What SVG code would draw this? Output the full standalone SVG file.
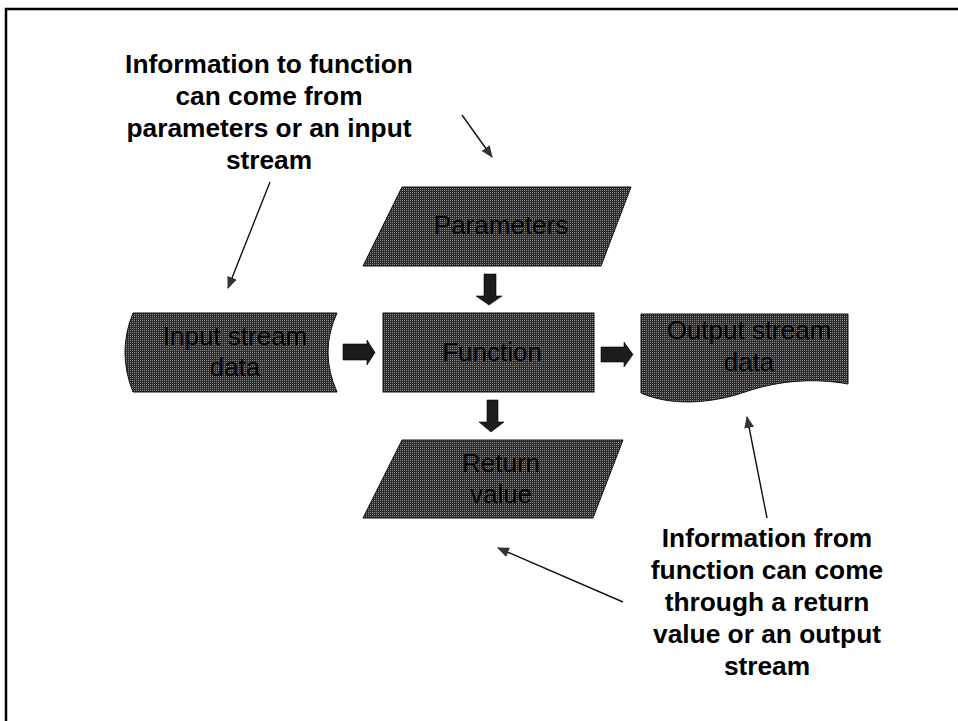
<svg xmlns="http://www.w3.org/2000/svg" width="958" height="721" viewBox="0 0 958 721">
  <defs>
    <!-- fine dither fill used by every flowchart shape -->
    <pattern id="dither" width="2" height="2" patternUnits="userSpaceOnUse">
      <rect width="2" height="2" fill="#2c2c2c"/>
      <rect width="1" height="1" fill="#888"/>
    </pattern>
    <marker id="tip" viewBox="0 0 12 10" refX="11" refY="5" markerWidth="12" markerHeight="10" markerUnits="userSpaceOnUse" orient="auto">
      <path d="M0,0 L12,5 L0,10 Z" fill="#333"/>
    </marker>
    <style>
      .shape { fill: url(#dither); stroke: #111; stroke-width: 1; }
      .label { font-family: "Liberation Sans", Arial, sans-serif; font-size: 26px; fill: #000; text-anchor: middle; }
      .note { font-family: "Liberation Sans", Arial, sans-serif; font-size: 26.3px; font-weight: bold; fill: #000; text-anchor: middle; }
      .block { fill: #1c1c1c; stroke: #000; stroke-width: 0.6; }
      .pointer { stroke: #111; stroke-width: 1.4; fill: none; marker-end: url(#tip); }
    </style>
  </defs>

  <rect width="958" height="721" fill="#fff"/>
  <!-- page frame -->
  <rect x="6" y="9" width="1000" height="1000" fill="none" stroke="#000" stroke-width="2.5"/>

  <g id="note-in">
    <text class="note" x="269" y="73">Information to function</text>
    <text class="note" x="269" y="105">can come from</text>
    <text class="note" x="269" y="137">parameters or an input</text>
    <text class="note" x="269" y="169">stream</text>
  </g>

  <g id="note-out">
    <text class="note" x="767" y="547">Information from</text>
    <text class="note" x="767" y="579">function can come</text>
    <text class="note" x="767" y="611">through a return</text>
    <text class="note" x="767" y="643">value or an output</text>
    <text class="note" x="767" y="675">stream</text>
  </g>

  <g id="parameters">
    <path class="shape" d="M402,187 H631 L601,266 H363 Z"/>
    <text class="label" x="501" y="234">Parameters</text>
  </g>

  <g id="input-stream">
    <path class="shape" d="M133,313 H337 Q319,352 337,392 H133 Q117,352 133,313 Z"/>
    <text class="label" x="235" y="345">Input stream</text>
    <text class="label" x="235" y="376">data</text>
  </g>

  <g id="function">
    <rect class="shape" x="383" y="313" width="211" height="79"/>
    <text class="label" x="492" y="361">Function</text>
  </g>

  <g id="output-stream">
    <path class="shape" d="M641,314 H848 V384 C815,378 780,380 745,392 C710,404 670,406 641,393 Z"/>
    <text class="label" x="749" y="339">Output stream</text>
    <text class="label" x="749" y="371">data</text>
  </g>

  <g id="return-value">
    <path class="shape" d="M402,440 H623 L593,518 H363 Z"/>
    <text class="label" x="501" y="472">Return</text>
    <text class="label" x="501" y="503">value</text>
  </g>

  <g id="connectors">
    <!-- block arrows of the data flow -->
    <polygon class="block" points="484,274 496,274 496,296 502,296 489,305 476,296 484,296"/>
    <polygon class="block" points="487,400 498,400 498,422 504,422 491,432 479,422 487,422"/>
    <polygon class="block" points="343,344 367,344 367,340 375,352.5 367,365 367,360 343,360"/>
    <polygon class="block" points="601,347 624,347 624,342 633,354.5 624,367 624,362 601,362"/>
    <!-- pointers from the notes -->
    <line class="pointer" x1="462" y1="115" x2="492" y2="157"/>
    <line class="pointer" x1="270" y1="182" x2="228" y2="288"/>
    <line class="pointer" x1="767" y1="518" x2="747" y2="417"/>
    <line class="pointer" x1="623" y1="602" x2="498" y2="548"/>
  </g>
</svg>
